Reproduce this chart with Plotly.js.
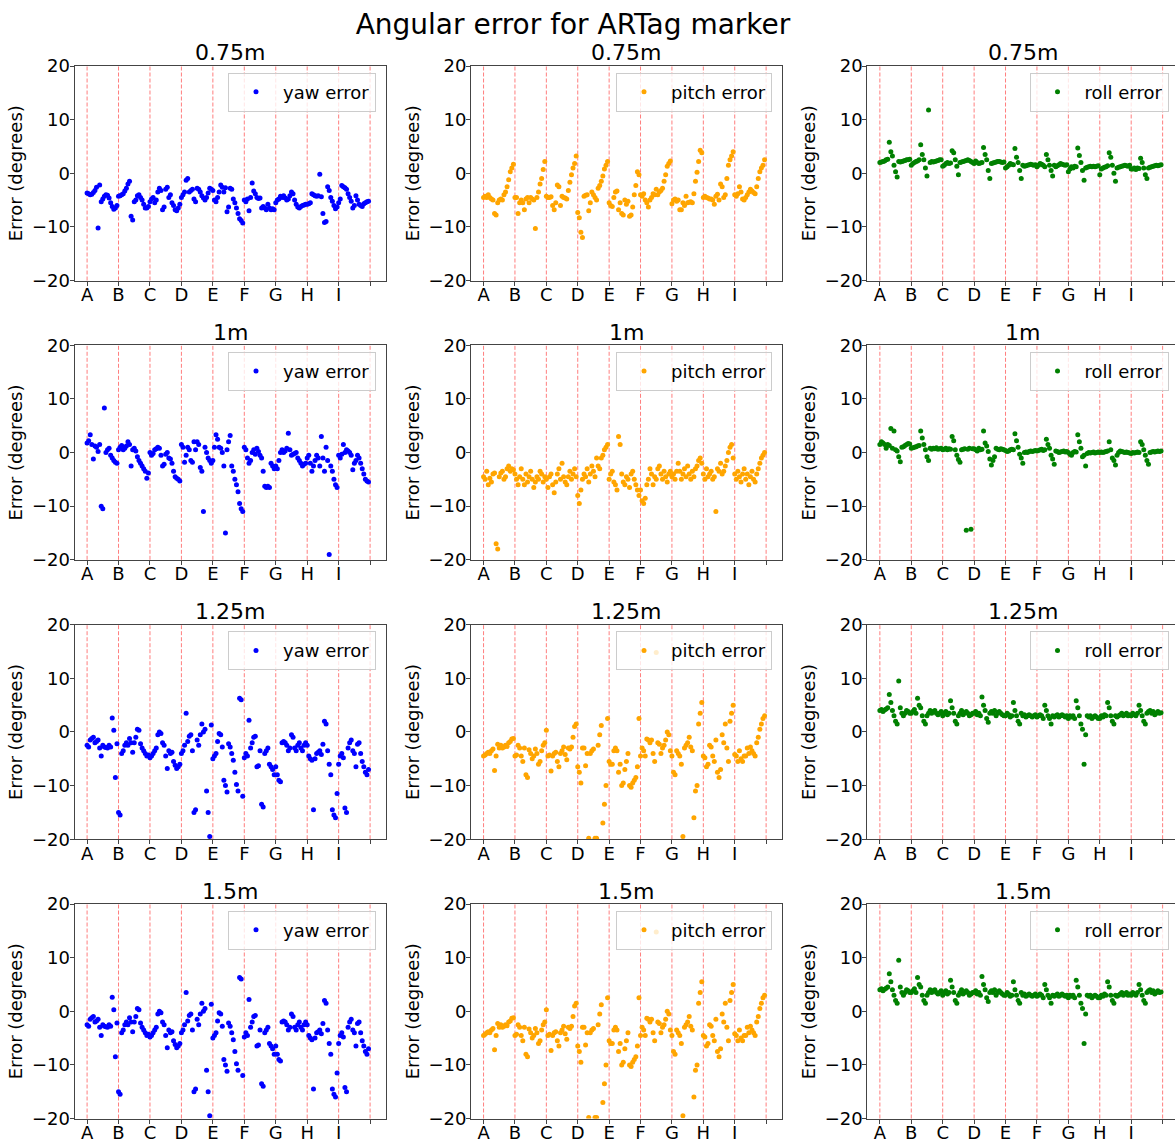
<!DOCTYPE html>
<html>
<head>
<meta charset="utf-8">
<script src="https://cdn.plot.ly/plotly-3.0.1.min.js"></script>
<style>
html,body{margin:0;padding:0;overflow:hidden;background:#fff;}
#chart{width:1178px;height:1142px;}
</style>
</head>
<body>
<div id="chart"></div>
<script>
// ---- categories / labels ----
const categories = ['A','B','C','D','E','F','G','H','I'];
const distances = ['0.75m','1m','1.25m','1.5m'];
const components = ['yaw error','pitch error','roll error'];
const perSegment = 20;

// ---- 0.75 m ----
const yaw075 = [
 -3.7,-3.8,-4.0,-3.9,-3.6,-3.2,-2.6,-10.2,-2.2,-5.3,-4.8,-4.3,-4.0,-4.1,-4.6,-5.5,-6.2,-6.7,-6.5,-6.0,
 -4.3,-4.2,-4.0,-3.8,-3.3,-2.8,-2.0,-1.5,-8.0,-8.7,-5.3,-5.0,-4.2,-4.0,-4.5,-5.0,-5.8,-6.5,-6.5,-6.2,
 -5.3,-4.8,-4.5,-5.5,-5.0,-3.5,-2.8,-3.2,-6.8,-6.3,-3.0,-2.6,-4.5,-4.0,-5.5,-6.0,-6.8,-7.0,-6.5,-5.8,
 -4.5,-4.0,-3.5,-1.3,-1.0,-3.5,-3.2,-3.0,-4.8,-5.3,-2.8,-3.0,-3.5,-4.2,-4.6,-5.0,-4.5,-3.7,-2.8,-3.0,
 -3.2,-5.0,-5.3,-4.5,-3.5,-2.2,-2.6,-3.5,-2.7,-7.2,-6.3,-2.8,-3.0,-4.8,-5.5,-6.5,-7.5,-8.5,-8.8,-9.3,
 -5.0,-5.3,-4.8,-7.0,-4.5,-1.8,-3.3,-3.8,-4.5,-4.7,-4.6,-6.5,-6.2,-6.5,-6.8,-5.8,-6.5,-6.8,-6.6,-6.8,
 -5.5,-5.0,-4.8,-4.3,-4.5,-4.2,-4.6,-5.0,-4.8,-4.2,-3.5,-3.8,-5.0,-5.8,-6.3,-6.5,-6.2,-6.0,-5.9,-5.8,
 -5.8,-5.7,-5.5,-3.8,-4.0,-4.2,-4.3,-4.2,-0.2,-4.4,-7.5,-9.2,-9.0,-2.5,-3.2,-4.5,-5.2,-6.0,-6.6,-6.3,
 -5.5,-4.8,-2.3,-2.5,-2.7,-3.0,-3.8,-4.5,-5.2,-6.5,-6.0,-4.2,-5.0,-5.8,-6.0,-6.2,-5.7,-5.5,-5.3,-5.2
];
const pitch075 = [
 -4.5,-4.3,-4.5,-4.0,-4.5,-4.8,-5.0,-7.5,-7.8,-5.5,-5.0,-4.8,-5.0,-4.0,-3.5,-2.5,-1.2,0.3,1.0,1.7,
 -4.5,-4.5,-7.5,-5.5,-5.0,-5.5,-6.8,-4.8,-4.5,-5.5,-4.5,-4.8,-5.0,-10.3,-4.5,-3.5,-2.0,-1.0,0.7,2.2,
 -4.3,-4.5,-4.5,-4.4,-6.0,-6.8,-5.5,-2.2,-2.5,-6.0,-4.3,-4.5,-4.6,-4.8,-3.2,-1.7,-0.3,1.0,1.8,3.2,
 -7.3,-8.3,-11.0,-12.0,-4.3,-4.1,-4.0,-7.0,-5.5,-3.5,-4.0,-4.5,-5.0,-2.8,-2.3,-1.5,-0.5,0.8,1.5,2.2,
 -5.5,-6.0,-6.2,-4.5,-3.5,-3.3,-6.8,-5.5,-7.5,-7.8,-5.0,-5.8,-5.2,-8.0,-7.8,-6.3,-4.0,-2.3,0.3,-0.3,
 -4.0,-4.3,-3.8,-5.0,-5.5,-6.3,-5.0,-4.5,-3.8,-4.0,-3.0,-4.0,-3.5,-3.2,-2.8,-1.5,-0.3,1.3,1.8,2.3,
 -5.7,-5.0,-4.8,-5.2,-5.0,-6.8,-6.8,-5.5,-6.0,-4.3,-5.5,-5.4,-5.3,-5.5,-3.8,-1.5,0.2,2.2,4.3,3.8,
 -4.5,-4.3,-4.5,-4.6,-4.8,-4.8,-5.0,-5.8,-4.3,-3.9,-5.0,-2.0,-2.5,-4.5,-4.0,-1.0,1.5,2.5,3.2,4.0,
 -4.0,-4.3,-3.8,-2.5,-3.5,-4.8,-5.0,-4.5,-4.0,-3.5,-3.0,-3.3,-3.6,-3.8,-2.5,-1.0,0.3,1.0,1.5,2.5
];
const roll075 = [
 2.0,2.1,2.2,2.3,2.5,2.6,5.8,4.0,3.2,1.5,0.3,-0.7,2.2,2.1,2.2,2.3,2.4,2.5,2.5,2.6,
 1.5,1.8,2.0,2.2,2.3,2.5,5.3,3.5,2.5,1.0,-0.5,11.8,2.0,2.2,2.1,2.2,2.3,2.4,2.5,2.5,
 1.3,1.5,1.8,2.0,1.8,1.9,4.2,3.8,2.5,1.3,-0.3,2.0,2.1,2.2,2.3,2.4,2.5,2.4,2.2,2.0,
 1.8,2.3,2.0,1.8,1.9,2.0,4.8,3.5,2.5,0.5,-1.0,1.8,1.9,2.0,2.1,2.2,2.2,2.1,2.0,2.1,
 1.0,1.2,1.5,1.8,1.7,1.6,4.6,3.0,2.0,0.5,-1.0,1.5,1.3,1.4,1.5,1.6,1.7,1.6,1.5,1.6,
 1.2,1.5,1.8,1.7,1.5,1.2,3.5,2.5,1.5,0.5,-0.5,1.5,1.2,1.4,1.6,1.8,1.7,1.6,1.5,1.6,
 0.3,0.8,1.2,1.0,1.3,1.2,4.7,3.3,2.0,0.5,-1.3,1.0,1.1,1.2,1.3,1.2,1.3,1.2,1.3,1.4,
 -0.3,0.8,1.0,1.1,1.2,1.4,3.8,3.0,1.5,0.0,-1.5,1.0,1.1,1.2,1.3,1.4,1.5,1.4,1.3,1.5,
 0.8,0.8,1.0,0.7,1.0,0.9,2.8,2.0,1.0,-0.3,-1.0,1.0,1.1,1.2,1.3,1.4,1.5,1.4,1.5,1.6
];

// ---- 1 m ----
const yaw100 = [
 1.8,2.2,3.3,1.5,-1.2,1.2,1.0,0.2,1.5,-10.0,-10.5,8.3,0.0,0.5,0.8,-0.5,-1.0,-1.5,-1.8,-2.0,
 0.5,1.0,1.3,0.5,0.8,1.2,2.0,1.5,-2.5,0.5,0.8,0.3,-0.8,-1.5,-2.0,-2.5,-3.0,-3.5,-4.8,-3.8,
 0.0,-0.5,-0.2,0.5,0.7,1.0,0.8,-0.5,-2.5,-2.2,-0.3,0.0,-1.0,-1.2,-2.0,-3.5,-4.5,-4.8,-5.0,-5.3,
 1.5,1.0,-1.8,-0.5,1.0,0.5,-1.5,-1.8,2.0,0.5,2.0,1.5,-2.8,-3.5,-11.0,1.0,0.0,-1.0,-1.5,-2.0,
 -1.5,1.0,3.3,2.5,1.0,0.8,0.0,-2.5,-15.0,0.5,2.0,3.2,-2.5,-3.5,-5.0,-6.0,-7.3,-9.5,-10.5,-11.0,
 1.0,0.5,-1.0,-2.0,-1.5,0.0,0.5,-0.3,0.8,0.2,-0.5,-1.0,-3.5,-6.3,-6.5,-6.3,-6.5,-2.0,-2.5,-3.0,
 -2.5,-3.0,-1.5,0.0,0.5,0.0,0.3,0.8,3.6,0.5,-0.5,-0.3,-0.2,0.0,-1.0,-1.5,-2.0,-2.5,-2.2,-2.0,
 -1.0,-0.5,-2.0,-3.5,-2.5,-1.5,-0.5,-1.0,-2.5,3.0,-1.0,-3.5,1.0,-1.5,-19.0,-2.5,-3.5,-5.0,-6.0,-6.5,
 -0.5,-1.0,-0.3,1.5,0.0,0.5,0.3,0.0,-0.5,-3.2,-2.0,-1.5,-0.5,-1.0,-2.0,-3.0,-4.0,-5.0,-5.3,-5.5
];
const pitch100 = [
 -4.5,-5.0,-3.5,-6.0,-4.8,-5.5,-4.0,-3.8,-17.0,-18.0,-4.5,-3.8,-3.5,-5.0,-4.5,-3.0,-2.5,-3.5,-3.0,-3.2,
 -4.0,-5.0,-6.0,-4.5,-3.0,-5.0,-6.0,-4.0,-5.5,-4.5,-3.5,-5.0,-6.5,-5.5,-4.5,-5.0,-3.5,-4.0,-5.5,-4.5,
 -5.0,-6.5,-4.5,-4.0,-6.0,-7.5,-5.5,-4.0,-3.0,-5.0,-2.0,-4.5,-5.5,-6.0,-4.5,-3.5,-5.0,-4.0,-3.0,-4.5,
 -8.0,-9.5,-7.0,-5.0,-4.0,-4.5,-3.0,-5.5,-4.0,-2.5,-3.5,-4.5,-1.0,-2.5,-3.0,-1.0,-0.5,0.5,1.0,1.5,
 -5.0,-4.0,-3.5,-5.5,-6.0,-7.0,3.0,1.5,-4.0,-5.5,-6.0,-4.5,-5.0,-6.5,-4.0,-3.5,-5.0,-6.0,-7.0,-8.0,
 -7.0,-9.0,-9.5,-8.5,-6.0,-5.0,-3.0,-4.0,-6.0,-4.5,-5.0,-3.0,-2.5,-4.0,-5.0,-3.5,-4.5,-5.5,-4.0,-3.5,
 -4.5,-4.0,-5.0,-3.5,-2.0,-3.5,-5.0,-4.0,-3.0,-4.5,-2.5,-4.0,-5.0,-3.5,-4.5,-3.0,-2.5,-1.5,-1.0,-2.0,
 -4.0,-5.0,-3.0,-4.5,-4.0,-3.5,-5.0,-4.5,-11.0,-3.0,-3.5,-2.0,-4.0,-3.5,-2.5,-1.5,0.0,1.0,1.5,-1.0,
 -4.0,-5.0,-3.5,-4.5,-5.5,-4.0,-3.0,-5.0,-4.0,-6.0,-4.5,-3.5,-5.0,-5.5,-4.0,-3.0,-2.0,-1.0,-0.5,0.0
];
const roll100 = [
 1.5,2.0,1.8,1.5,0.8,1.5,1.3,4.5,0.8,4.0,0.5,0.3,-0.8,-1.7,1.0,1.1,1.3,1.5,1.7,1.6,
 0.8,0.9,1.0,1.1,1.2,1.3,4.0,2.7,1.5,0.5,-0.8,-1.5,0.8,0.6,0.8,0.7,0.9,0.6,0.7,0.8,
 0.5,0.6,0.8,0.5,0.7,0.6,3.0,2.2,0.5,-0.5,-1.3,-1.8,0.5,0.6,0.7,-14.5,0.6,0.8,-14.3,0.7,
 0.7,0.5,0.3,0.8,0.5,0.6,4.0,1.8,1.2,0.2,-1.2,-2.3,-1.5,-0.8,0.8,0.6,0.5,0.7,0.6,0.5,
 0.4,0.2,0.3,0.5,0.6,0.5,3.5,2.2,1.0,-0.3,-1.0,-2.0,0.0,0.1,0.0,0.2,0.3,0.2,0.3,0.4,
 0.3,0.4,0.5,0.6,0.4,0.5,2.5,1.5,0.8,-0.5,-1.2,-2.2,0.3,0.2,0.0,0.1,0.2,0.3,0.1,0.2,
 0.0,-0.3,-0.5,0.0,0.2,0.1,3.3,2.0,0.8,-0.8,-0.5,-2.5,-0.2,0.0,-0.1,0.0,0.1,-0.1,0.0,0.1,
 0.0,0.1,0.0,0.1,0.2,0.3,2.0,0.5,-1.0,-1.5,-2.3,-0.5,0.0,0.3,0.2,0.1,0.0,0.1,0.0,-0.1,
 -0.2,0.0,-0.1,0.0,0.1,0.0,2.0,1.5,0.5,-0.5,-1.5,-2.2,0.0,0.1,0.2,0.1,0.2,0.3,0.2,0.3
];

// ---- 1.25 m ----
const yaw125 = [
 -2.5,-2.8,-1.5,-1.2,-1.0,-2.0,-1.8,-1.5,-3.0,-4.5,-2.5,-2.8,-2.9,-3.0,-2.5,-2.8,2.6,0.3,-8.5,-2.2,
 -15.0,-15.5,-4.0,-3.5,-2.5,-2.0,-2.5,-1.2,-2.0,-3.8,-2.0,-1.0,0.5,0.3,-2.2,-3.0,-3.5,-4.0,-4.5,-4.3,
 -4.8,-4.5,-4.0,-3.5,-3.0,-0.5,0.0,-0.3,-2.0,-2.5,-4.5,-6.8,-3.5,-4.0,-3.8,-5.5,-6.2,-6.8,-6.5,-6.0,
 -4.0,-3.5,-2.5,3.5,-1.8,-0.8,-0.5,-3.5,-15.0,-14.5,-1.5,-2.5,-0.5,1.5,0.0,0.5,-11.0,-15.0,-19.5,1.3,
 -5.0,-4.5,-4.0,-1.8,-0.3,-0.5,-2.8,-9.0,-10.0,-11.2,-2.2,-2.8,-4.0,-5.3,-7.5,-9.8,-11.0,6.3,6.0,-12.0,
 -4.8,-4.0,-4.5,2.2,-3.0,-2.0,-1.0,-0.8,-6.5,-6.3,-3.5,-13.5,-14.0,-4.0,-3.5,-3.0,-6.0,-6.5,-7.0,-8.0,
 -6.5,-8.0,-9.0,-9.3,-2.0,-1.8,-2.0,-2.5,-3.5,-3.0,-0.5,-1.0,-3.0,-3.5,-2.5,-2.0,-3.0,-3.5,-2.5,-2.0,
 -2.5,-4.5,-5.0,-5.3,-14.5,-5.0,-4.0,-3.8,-3.5,-4.2,-2.3,2.0,1.5,-3.5,-6.0,-8.0,-14.5,-15.5,-16.0,-11.5,
 -6.0,-4.5,-4.0,-4.8,-14.2,-15.0,-3.0,-2.0,-1.5,-3.5,-4.0,-6.5,-2.3,-2.0,-4.0,-5.5,-6.5,-7.5,-8.0,-7.0
];
const pitch125 = [
 -4.5,-4.3,-4.0,-3.8,-4.0,-3.5,-3.2,-7.2,-4.5,-2.3,-3.0,-2.5,-3.0,-2.8,-2.5,-2.7,-2.0,-1.8,-1.3,-1.2,
 -4.5,-4.3,-2.5,-3.0,-4.5,-5.5,-3.0,-8.0,-8.5,-3.3,-4.0,-5.0,-4.5,-3.2,-4.0,-6.0,-5.5,-3.5,-2.5,-2.0,
 0.3,-4.5,-4.3,-7.3,-4.5,-4.0,-3.8,-5.5,-6.5,-4.0,-3.5,-2.8,-4.2,-5.2,-3.0,-3.2,-2.8,-1.0,1.0,1.5,
 -6.5,-7.5,-9.5,-3.0,-3.0,-6.3,-4.0,-19.8,-4.0,-3.5,-3.2,-19.8,-19.8,-2.5,-0.5,1.2,-17.0,-13.5,-10.0,2.5,
 -5.5,-6.0,-6.0,-3.5,-3.0,-3.5,-7.5,-6.0,-10.0,-9.5,-7.0,-5.5,-4.0,-10.0,-10.3,-9.5,-9.0,-8.5,-6.5,2.5,
 -4.5,-3.0,-3.5,-4.5,-1.3,-1.5,-2.0,-1.5,-4.0,-5.5,14.8,-2.0,-2.3,-4.0,-3.0,-2.5,-1.5,0.0,-0.5,-3.5,
 -4.5,-7.5,-8.0,-3.5,-4.0,-4.5,-6.0,-19.5,-3.0,-2.5,-2.0,-1.0,-2.8,-3.5,-16.0,-11.0,-10.0,1.5,3.5,5.5,
 -4.5,-4.8,-6.5,-6.0,-2.5,-2.8,-4.5,-5.5,-1.5,-7.5,-8.5,-7.0,-0.5,-2.0,1.5,-3.0,-5.5,2.0,3.5,5.0,
 -4.2,-4.5,-5.5,-3.5,-5.0,-5.5,-4.5,-4.5,-3.0,-4.0,-2.8,-3.5,-4.0,-4.5,-2.0,-1.0,0.5,1.5,2.5,3.0
];
const roll125 = [
 4.0,4.2,3.8,4.1,4.3,4.5,7.0,5.5,4.0,3.0,2.0,1.5,9.5,4.5,3.5,3.0,3.5,4.0,3.8,3.5,
 3.5,3.8,4.2,3.5,6.3,5.0,4.5,3.0,2.0,1.5,3.0,3.5,4.0,3.5,3.8,4.0,3.5,3.2,3.5,3.8,
 3.0,3.5,3.8,3.2,3.5,5.8,4.5,3.5,2.0,1.5,3.0,3.5,4.0,3.2,3.5,3.8,3.5,3.0,3.2,3.5,
 3.5,3.8,3.2,3.5,3.0,6.5,5.0,4.0,2.5,1.8,3.5,3.8,3.5,4.0,3.0,3.5,3.8,3.5,3.2,3.0,
 3.0,3.5,3.2,2.8,3.0,5.5,4.0,3.0,2.0,1.5,3.5,3.0,3.2,2.8,3.0,3.2,3.0,2.8,3.0,3.2,
 2.8,3.0,3.2,3.0,2.5,5.0,4.0,3.0,2.5,1.5,3.0,2.8,3.0,3.2,2.8,3.0,3.2,3.0,2.8,3.0,
 2.5,3.0,2.8,3.0,2.5,5.8,4.5,3.0,1.5,0.5,-6.0,-0.5,3.0,2.8,3.0,2.5,2.8,3.0,2.8,2.5,
 2.5,3.0,2.8,3.2,3.0,5.5,4.5,3.0,2.0,1.5,3.0,2.8,3.0,3.2,3.5,3.0,3.2,3.5,3.0,3.2,
 3.0,3.5,3.2,3.0,3.5,5.0,4.0,3.0,2.0,1.5,3.5,3.8,4.0,3.5,3.8,3.2,3.5,3.8,3.5,3.6
];

// ---- 1.5 m (identical to 1.25 m in the reference) ----
const yaw150 = yaw125.slice();
const pitch150 = pitch125.slice();
const roll150 = roll125.slice();

const seriesGrid = [
  [yaw075, pitch075, roll075],
  [yaw100, pitch100, roll100],
  [yaw125, pitch125, roll125],
  [yaw150, pitch150, roll150]
];
const colors = ['#0000ff', '#ffa500', '#008000'];

// ---- layout geometry (px) ----
const W = 1178, H = 1142;
const colL = [74.5, 471, 867.3];
const colR = [385.5, 781.5, 1178];
const rowTop = [66, 345.3, 624.7, 904];
const rowH = 214.5;
const FONT = 'DejaVu Sans, sans-serif';

const traces = [];
const layout = {
  width: W, height: H,
  margin: {l: 0, r: 0, t: 0, b: 0},
  paper_bgcolor: '#fff', plot_bgcolor: '#fff',
  font: {family: FONT, color: '#000', size: 18},
  title: {text: 'Angular error for ARTag marker', x: 573 / W, xanchor: 'center',
          y: 1 - 24 / H, yanchor: 'middle', font: {size: 28, family: FONT, color: '#000'}},
  shapes: [], annotations: [], showlegend: true
};

const tickVals = categories.map((c, i) => i).concat([categories.length]);
const tickText = categories.concat(['']);

for (let r = 0; r < 4; r++) {
  for (let c = 0; c < 3; c++) {
    const k = r * 3 + c + 1;
    const xa = k === 1 ? 'x' : 'x' + k;
    const ya = k === 1 ? 'y' : 'y' + k;
    const lg = k === 1 ? 'legend' : 'legend' + k;
    const ys = seriesGrid[r][c];
    traces.push({
      type: 'scatter', mode: 'markers',
      x: ys.map((v, i) => i / perSegment), y: ys,
      xaxis: xa, yaxis: ya, legend: lg,
      name: components[c],
      marker: {color: colors[c], size: 5},
      hoverinfo: 'skip'
    });
    const axStyle = {
      showline: true, mirror: true, linecolor: '#444', linewidth: 1,
      ticks: 'outside', ticklen: 4, tickcolor: '#444', tickwidth: 1,
      showgrid: false, zeroline: false, fixedrange: true,
      tickfont: {size: 18, family: FONT, color: '#000'}
    };
    layout['xaxis' + (k === 1 ? '' : k)] = Object.assign({}, axStyle, {
      domain: [colL[c] / W, colR[c] / W], anchor: ya,
      range: [-0.40, 9.49], tickmode: 'array', tickvals: tickVals, ticktext: tickText,
      ticklabelstandoff: -6
    });
    layout['yaxis' + (k === 1 ? '' : k)] = Object.assign({}, axStyle, {
      domain: [1 - (rowTop[r] + rowH) / H, 1 - rowTop[r] / H], anchor: xa,
      range: [-20, 20], tickmode: 'array', tickvals: [-20, -10, 0, 10, 20],
      ticklabelstandoff: -4,
      title: {text: 'Error (degrees)', font: {size: 18, family: FONT, color: '#000'}, standoff: 4}
    });
    layout[lg] = {
      x: (colR[c] - 9.5) / W, xanchor: 'right',
      y: 1 - (rowTop[r] + 6.5) / H, yanchor: 'top',
      bgcolor: 'rgba(255,255,255,0.8)', bordercolor: '#cccccc', borderwidth: 1,
      font: {size: 18, family: FONT, color: '#000'}, itemwidth: 44
    };
    // subplot title
    layout.annotations.push({
      text: distances[r], xref: 'paper', yref: 'paper', showarrow: false,
      x: (colL[c] + colR[c]) / 2 / W, xanchor: 'center',
      y: 1 - (rowTop[r] - 13) / H, yanchor: 'middle',
      font: {size: 22, family: FONT, color: '#000'}
    });
    // dashed red boundaries
    tickVals.forEach(v => {
      layout.shapes.push({
        type: 'line', xref: xa, yref: ya + ' domain', x0: v, x1: v, y0: 0, y1: 1,
        line: {color: 'rgba(255,40,40,0.6)', width: 1, dash: '4px,2px'}, layer: 'below'
      });
    });
  }
}

Plotly.newPlot('chart', traces, layout, {displayModeBar: false, staticPlot: true});
</script>
</body>
</html>
